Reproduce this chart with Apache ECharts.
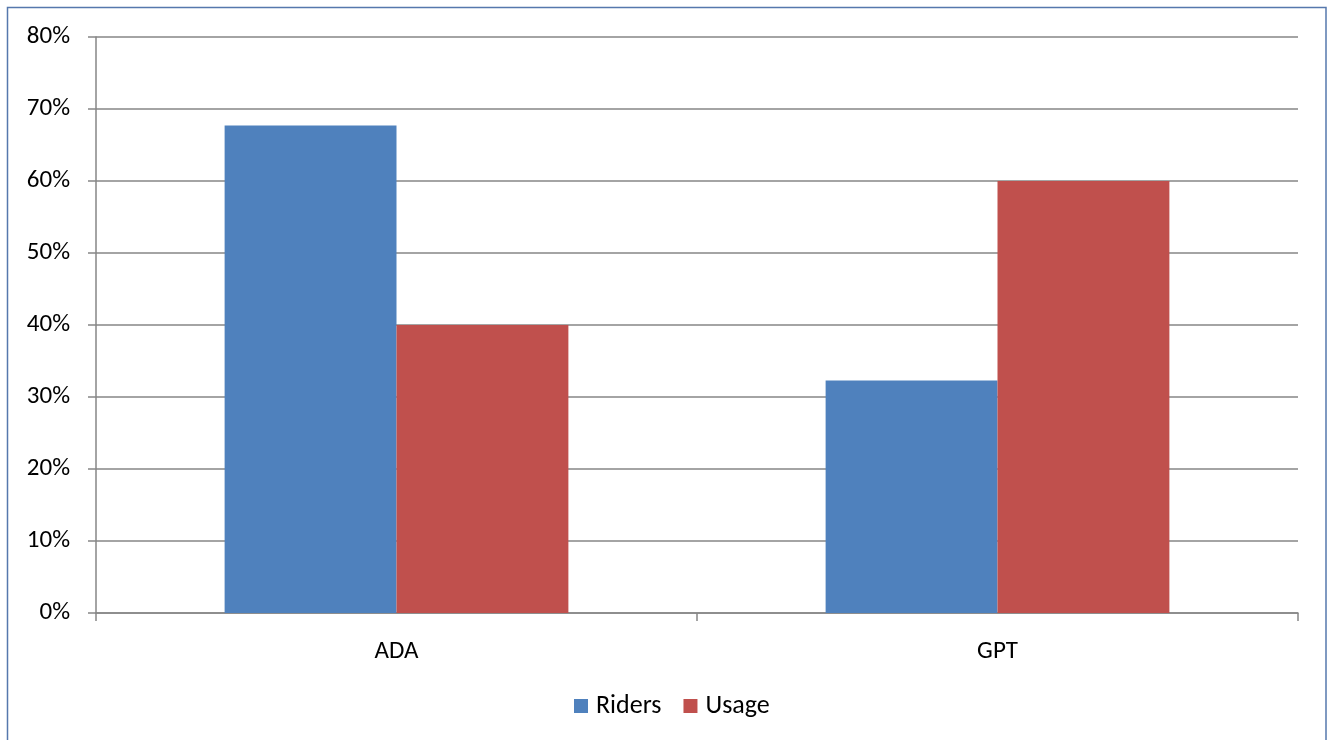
<!DOCTYPE html>
<html>
<head>
<meta charset="utf-8">
<script src="https://cdn.jsdelivr.net/npm/echarts@6/dist/echarts.min.js"></script>
<style>
html,body{margin:0;padding:0;background:#fff;}
#chart{width:1327px;height:740px;}
</style>
</head>
<body>
<div id="chart"></div>
<script>
const categories = ['ADA', 'GPT'];
const riders = [67.7, 32.3];
const usage = [40, 60];
const yTicks = [0, 10, 20, 30, 40, 50, 60, 70, 80];

const chart = echarts.init(document.getElementById('chart'));
const font = 'Carlito, "Open Sans", "Liberation Sans", sans-serif';
chart.setOption({
  animation: false,
  backgroundColor: '#ffffff',
  textStyle: { fontFamily: font },
  graphic: [{
    type: 'rect',
    shape: { x: 7.5, y: 7.5, width: 1318.5, height: 740 },
    style: { fill: 'none', stroke: '#5678AD', lineWidth: 1.5 },
    silent: true
  }],
  grid: { left: 96, right: 29, top: 37, bottom: 127, containLabel: false },
  legend: {
    bottom: 16,
    left: 569,
    itemWidth: 14,
    itemHeight: 14,
    itemGap: 22,
    icon: 'rect',
    textStyle: { fontSize: 26, color: '#000', fontFamily: font, padding: [0, 0, 0, 3] },
    data: ['Riders', 'Usage']
  },
  xAxis: {
    type: 'category',
    data: categories,
    axisLine: { lineStyle: { color: '#868686', width: 1.5 } },
    axisTick: { show: true, length: 8, lineStyle: { color: '#868686', width: 1.5 } },
    axisLabel: { fontSize: 25, color: '#000', margin: 26, fontFamily: font }
  },
  yAxis: {
    type: 'value',
    min: yTicks[0],
    max: yTicks[yTicks.length - 1],
    interval: 10,
    axisLine: { show: true, lineStyle: { color: '#868686', width: 1.5 } },
    axisTick: { show: true, length: 8, lineStyle: { color: '#868686', width: 1.5 } },
    axisLabel: { fontSize: 25, color: '#000', margin: 26, formatter: '{value}%', fontFamily: font },
    splitLine: { show: true, lineStyle: { color: '#868686', width: 1.5 } }
  },
  series: [
    { name: 'Riders', type: 'bar', data: riders, barGap: '0%', barCategoryGap: '42.8%', itemStyle: { color: '#4F81BD' } },
    { name: 'Usage', type: 'bar', data: usage, barGap: '0%', barCategoryGap: '42.8%', itemStyle: { color: '#C0504D' } }
  ]
});
</script>
</body>
</html>
